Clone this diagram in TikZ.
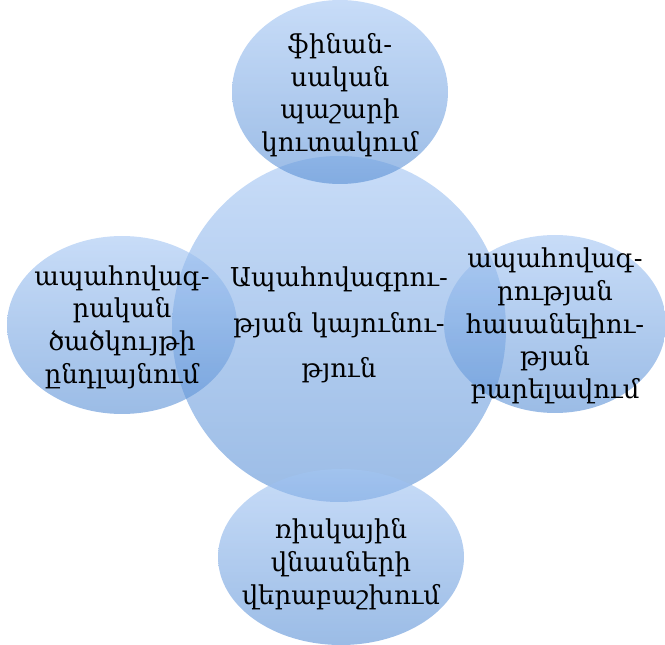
\documentclass[tikz,border=0pt]{standalone}
\usepackage{fontspec}
\setmainfont{DejaVu Serif}
\usetikzlibrary{shapes.geometric}
\definecolor{blobtop}{RGB}{163,197,243}
\definecolor{blobbot}{RGB}{88,143,213}
\tikzset{
  blob/.style={ellipse, inner sep=0pt, top color=blobtop, bottom color=blobbot, draw=none, fill opacity=0.6},
  lbl/.style={align=center, text=black, font=\fontsize{19.5}{24.5}\selectfont, inner sep=0pt},
  corelbl/.style={lbl, font=\fontsize{19.5}{34}\selectfont},
}
\begin{document}
\begin{tikzpicture}[x=0.75pt,y=-0.75pt]
\useasboundingbox (0,0) rectangle (665,645);
\node[blob, minimum width=250.5pt, minimum height=259.5pt] (core) at (339,329) {};
\node[blob, minimum width=162pt, minimum height=138pt] (top) at (340,92) {};
\node[blob, minimum width=172.5pt, minimum height=133.5pt] (left) at (122,325) {};
\node[blob, minimum width=166.5pt, minimum height=133.5pt] (right) at (555,324) {};
\node[blob, minimum width=184.5pt, minimum height=132pt] (bottom) at (341,557) {};
\node[corelbl] (tcore) at (339,325) {Ապահովագրու-\\թյան կայունու-\\թյուն};
\node[lbl] (ttop) at (340,95) {ֆինան-\\սական\\պաշարի\\կուտակում};
\node[lbl] (tleft) at (122,327) {ապահովագ-\\րական\\ծածկույթի\\ընդլայնում};
\node[lbl] (tright) at (555,326) {ապահովագ-\\րության\\հասանելիու-\\թյան\\բարելավում};
\node[lbl] (tbottom) at (341,564) {ռիսկային\\վնասների\\վերաբաշխում};
\end{tikzpicture}
\end{document}
